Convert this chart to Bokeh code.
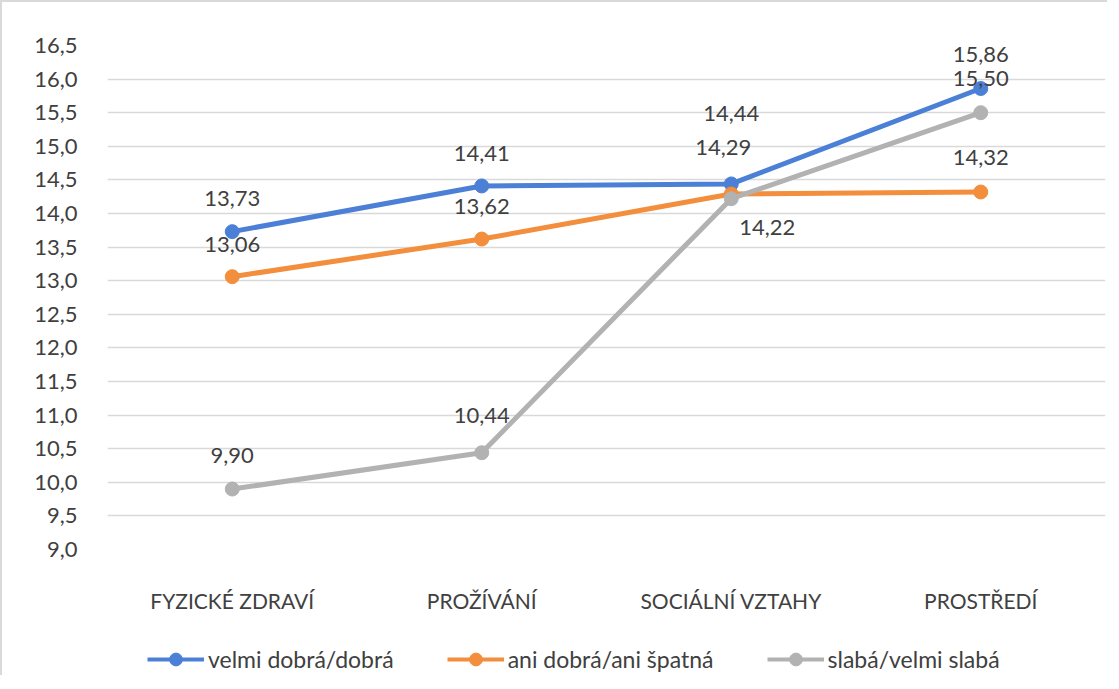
from bokeh.plotting import figure
from bokeh.layouts import column
from bokeh.models import (FactorRange, FixedTicker, CustomJSTickFormatter, Legend, LegendItem,
                          ColumnDataSource, LabelSet, Range1d)
from bokeh.embed import file_html
from bokeh.resources import INLINE
from bokeh.core.properties import value

categories = ["FYZICKÉ ZDRAVÍ", "PROŽÍVÁNÍ", "SOCIÁLNÍ VZTAHY", "PROSTŘEDÍ"]
series_names = ["velmi dobrá/dobrá", "ani dobrá/ani špatná", "slabá/velmi slabá"]
velmi_dobra = [13.73, 14.41, 14.44, 15.86]
ani_dobra = [13.06, 13.62, 14.29, 14.32]
slaba = [9.90, 10.44, 14.22, 15.50]
y_ticks = [9.0, 9.5, 10.0, 10.5, 11.0, 11.5, 12.0, 12.5, 13.0, 13.5, 14.0, 14.5, 15.0, 15.5, 16.0, 16.5]

colors = ["#4B80D6", "#F28E3C", "#B2B2B2"]
# label pixel offsets (layout only)
label_dx = [[0, 0, 0, 0], [0, 0, -8, 0], [0, 0, 36, 0]]
label_dy = [[33, 32, 70, 34], [32, 33, 47, 34], [34, 37, -29, 34]]

FONT = "Lato"
TXT = "#404040"

p = figure(x_range=FactorRange(*categories, range_padding=0), y_range=(9.0, 16.5),
           frame_width=996, frame_height=502, output_backend="svg", toolbar_location=None,
           min_border_left=105, min_border_right=4, min_border_top=43, min_border_bottom=70)
p.outline_line_color = None
p.background_fill_color = "white"
p.border_fill_color = "white"
p.styles = {"border-left": "2px solid #d9d9d9", "border-top": "2px solid #d9d9d9"}

p.xgrid.grid_line_color = None
p.ygrid.grid_line_color = "#D9D9D9"
p.ygrid.grid_line_width = 1.5
p.ygrid.ticker = FixedTicker(ticks=y_ticks)

p.yaxis.ticker = FixedTicker(ticks=y_ticks)
p.yaxis.formatter = CustomJSTickFormatter(code="return tick.toFixed(1).replace('.', ',');")
p.yaxis.axis_line_color = None
p.yaxis.major_tick_line_color = None
p.yaxis.minor_tick_line_color = None
p.yaxis.major_label_standoff = 24
p.yaxis.major_label_text_font = FONT
p.yaxis.major_label_text_font_size = "22px"
p.yaxis.major_label_text_color = TXT

p.xaxis.axis_line_color = None
p.xaxis.major_tick_line_color = None
p.xaxis.minor_tick_line_color = None
p.xaxis.major_label_standoff = 32
p.xaxis.major_label_text_font = FONT
p.xaxis.major_label_text_font_size = "21px"
p.xaxis.major_label_text_color = TXT

all_series = [velmi_dobra, ani_dobra, slaba]
for vals, col in zip(all_series, colors):
    src = ColumnDataSource(dict(x=categories, y=vals))
    p.line("x", "y", source=src, line_color=col, line_width=5)
    p.scatter("x", "y", source=src, size=14, fill_color=col, line_color=col)

# labels drawn after all lines so they sit on top
for vals, dx, dy in zip(all_series, label_dx, label_dy):
    src = ColumnDataSource(dict(x=categories, y=vals,
                                lbl=[f"{v:.2f}".replace(".", ",") for v in vals],
                                dx=dx, dy=dy))
    ls = LabelSet(x="x", y="y", text="lbl", source=src, x_offset="dx", y_offset="dy",
                  text_align="center", text_baseline="middle",
                  text_font=value(FONT), text_font_size="22px", text_color=TXT)
    p.add_layout(ls)

# legend strip below the chart (proxy renderers lie outside the visible range)
leg = figure(x_range=Range1d(0, 1), y_range=Range1d(0, 1),
             frame_width=996, frame_height=58, output_backend="svg", toolbar_location=None,
             min_border_left=105, min_border_right=4, min_border_top=0, min_border_bottom=0)
leg.axis.visible = False
leg.grid.visible = False
leg.outline_line_color = None
leg.border_fill_color = "white"
leg.styles = {"border-left": "2px solid #d9d9d9"}
items = []
for name, col in zip(series_names, colors):
    proxy = ColumnDataSource(dict(x=[-5.0, -4.0], y=[-5.0, -5.0]))
    r1 = leg.line("x", "y", source=proxy, line_color=col, line_width=4)
    r2 = leg.scatter("x", "y", source=proxy, size=12, fill_color=col, line_color=col)
    items.append(LegendItem(label=name, renderers=[r1, r2]))
legend = Legend(items=items, orientation="horizontal", location=(40, 0),
                label_text_font=FONT, label_text_font_size="23px", label_text_color=TXT,
                glyph_width=57, glyph_height=32, spacing=53, label_standoff=4,
                border_line_color=None, background_fill_alpha=0, padding=4, margin=0)
leg.add_layout(legend, "center")

layout = column(p, leg, spacing=0)
open("out.html", "w").write(file_html(layout, INLINE))
